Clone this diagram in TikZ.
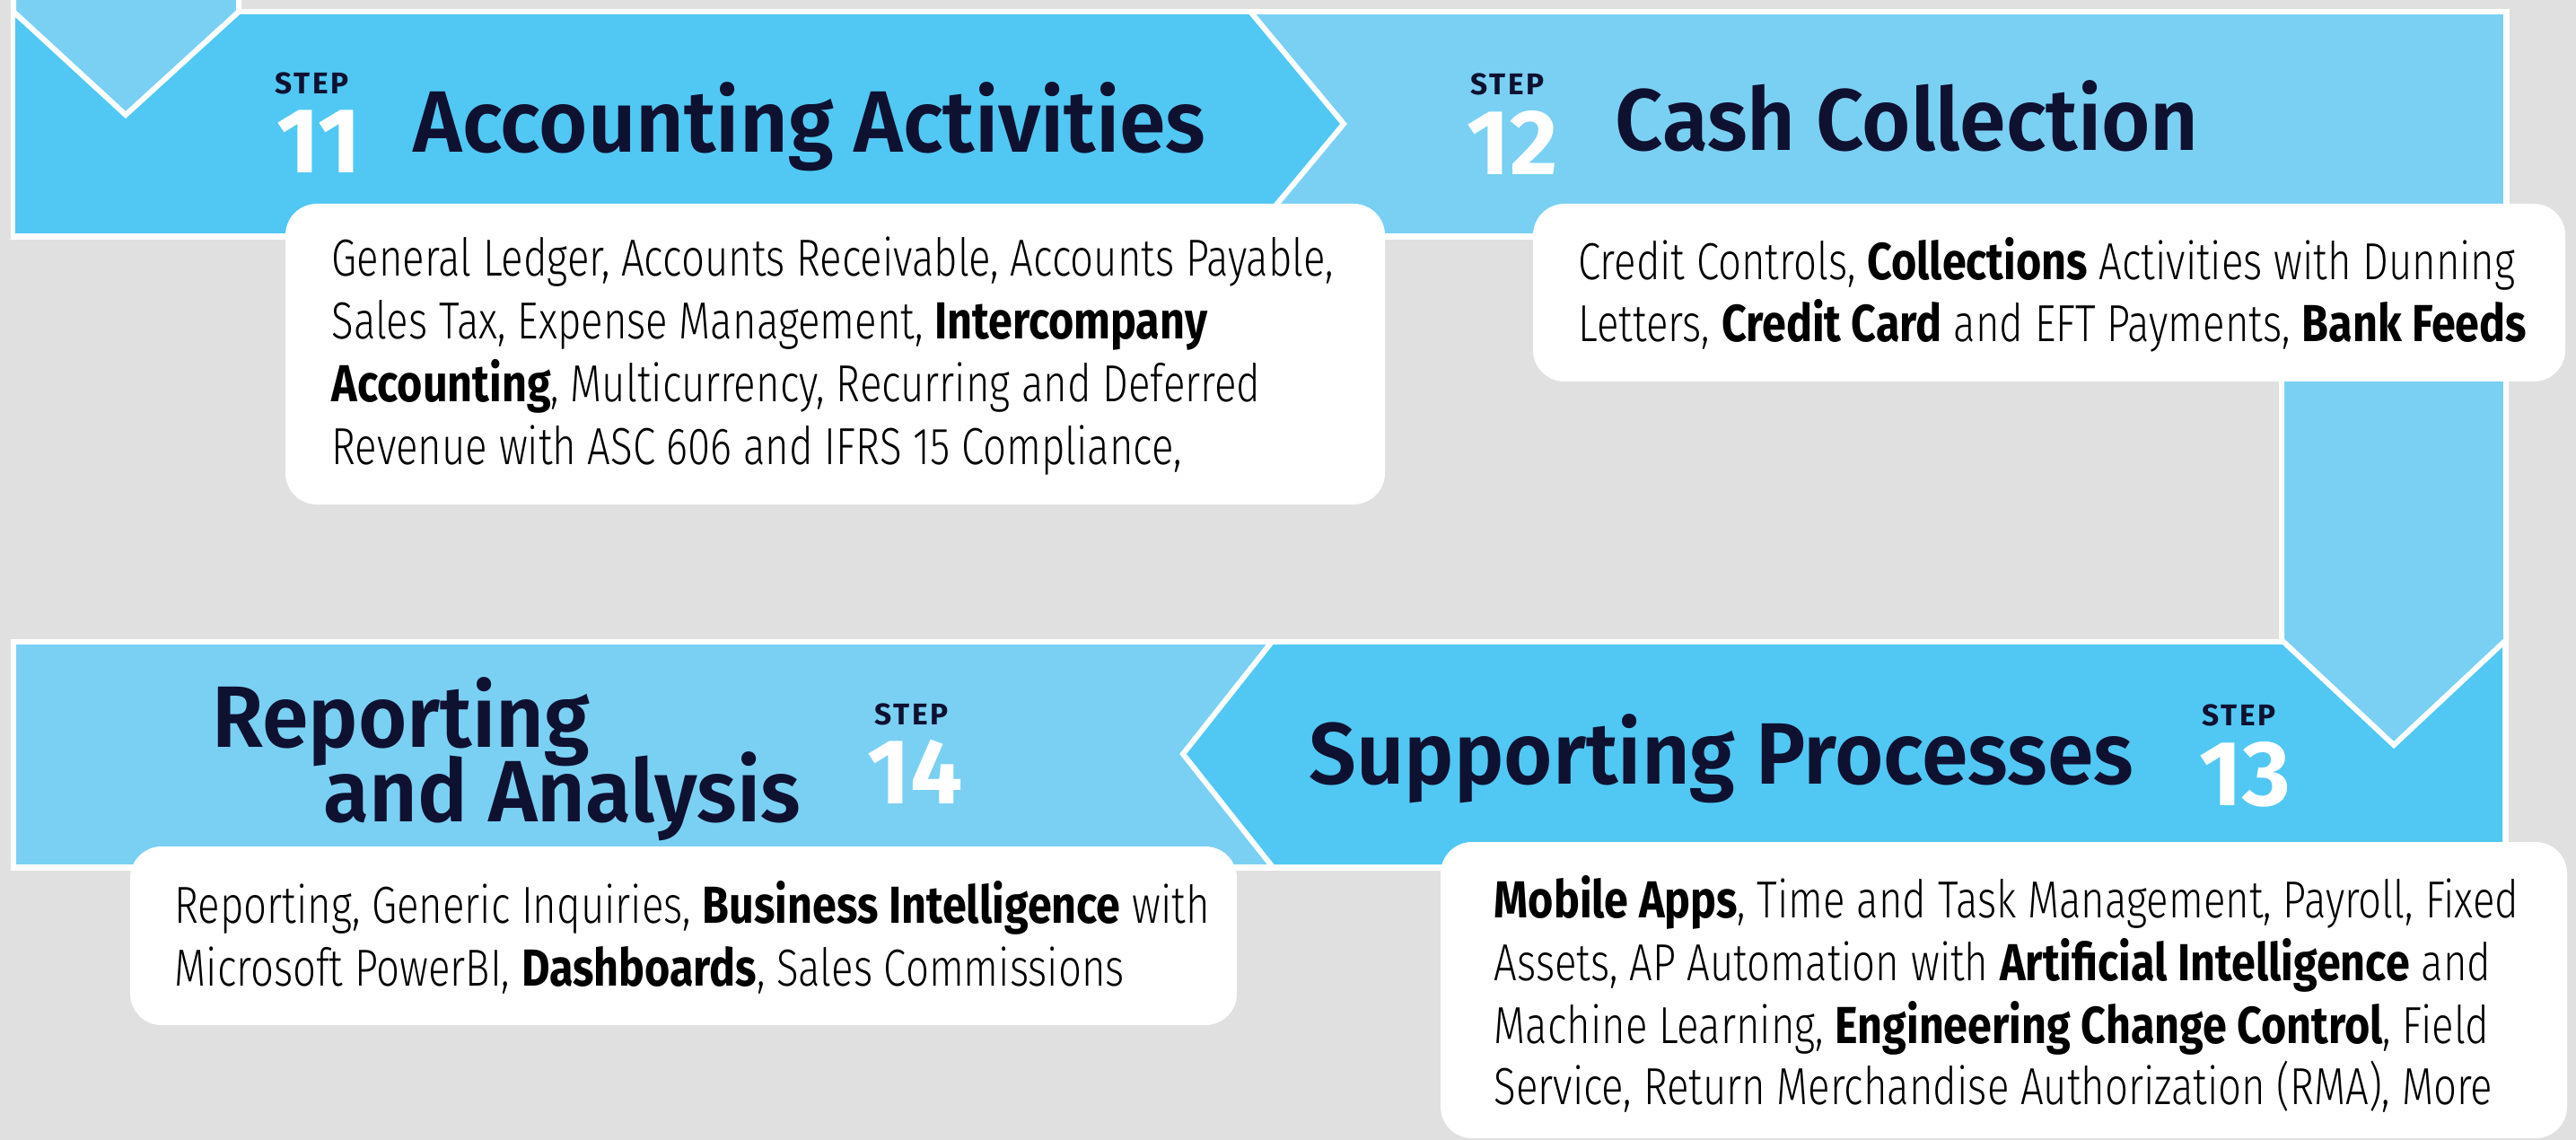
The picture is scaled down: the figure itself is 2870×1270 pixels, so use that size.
\documentclass[tikz,border=0pt]{standalone}
\usepackage{fontspec}
\setmainfont{Fira Sans}
\newfontfamily\titlefont{Fira Sans}[UprightFont={* SemiBold}, FakeStretch=0.96]
\newfontfamily\bodyfont{Fira Sans}[UprightFont={* Light}, BoldFont={* Bold}, UprightFeatures={FakeStretch=0.785}, BoldFeatures={FakeStretch=0.835}]
\newfontfamily\stepfont{Fira Sans}[UprightFont={* Bold}, LetterSpace=8]
\newfontfamily\numfont{Fira Sans}[UprightFont={* Bold}]
\definecolor{bgc}{HTML}{E0E0E0}
\definecolor{dk}{HTML}{50C8F3}
\definecolor{lt}{HTML}{7AD0F3}
\definecolor{navy}{HTML}{0F1131}
\tikzset{
  edge/.style={draw=white, line width=0.06cm, line join=miter},
  card/.style={fill=white, rounded corners=0.35cm},
  bodytxt/.style={anchor=base west, inner sep=0pt, text=black, font={\bodyfont\fontsize{16.5}{20}\selectfont}},
  titletxt/.style={anchor=base west, inner sep=0pt, text=navy, font={\titlefont\fontsize{27.6}{30}\selectfont}},
  steptxt/.style={anchor=base west, inner sep=0pt, text=navy, font={\stepfont\fontsize{9.5}{10}\selectfont}},
  numtxt/.style={anchor=base west, inner sep=0pt, text=white, font={\numfont\fontsize{29.3}{30}\selectfont}},
}
\begin{document}
\begin{tikzpicture}[x=0.01cm, y=-0.01cm]
\useasboundingbox (0,0) rectangle (2870,1270);
\fill[bgc] (0,0) rectangle (2870,1270);
% ---------- top banner ----------
\fill[white] (12,10) rectangle (2796,267);
\fill[lt] (17,16) rectangle (2789,260);
\fill[dk] (17,16) -- (1393,16) -- (1497,138) -- (1393,260) -- (17,260) -- cycle;
\draw[edge] (1393,13) -- (1497,138) -- (1393,263);
% incoming arrow from above (top left)
\filldraw[fill=lt, edge] (15,-20) -- (266,-20) -- (266,13) -- (140,128) -- (15,13) -- cycle;
% ---------- bottom banner ----------
\fill[white] (12,712) rectangle (2795,970);
\fill[lt] (18,718) rectangle (2788,963);
\fill[dk] (1417,718) -- (2788,718) -- (2788,963) -- (1418,963) -- (1318,840) -- cycle;
\draw[edge] (1417,715) -- (1318,840) -- (1418,966);
% down arrow on the right
\filldraw[fill=lt, edge] (2542,240) -- (2792,240) -- (2792,713) -- (2667,830) -- (2542,713) -- cycle;
% ---------- cards ----------
\fill[card] (318,227) rectangle (1543,562);
\fill[card] (1708,227) rectangle (2858,425);
\fill[card] (145,943) rectangle (1378,1142);
\fill[card] (1605,938) rectangle (2860,1268);
% ---------- step 11 ----------
\node[steptxt] (s11) at (306,105) {STEP};
\node[numtxt] (n11) at (308,193) {11};
\node[titletxt] (t11) at (460,170) {Accounting Activities};
\node[bodytxt] (b11a) at (369,308) {General Ledger, Accounts Receivable, Accounts Payable,};
\node[bodytxt] (b11b) at (369,378) {Sales Tax, Expense Management, \textbf{Intercompany}};
\node[bodytxt] (b11c) at (369,448) {\textbf{Accounting}, Multicurrency, Recurring and Deferred};
\node[bodytxt] (b11d) at (369,517) {Revenue with ASC 606 and IFRS 15 Compliance,};
% ---------- step 12 ----------
\node[steptxt] (s12) at (1638,106) {STEP};
\node[numtxt] (n12) at (1634,195) {12};
\node[titletxt] (t12) at (1799,168) {Cash Collection};
\node[bodytxt] (b12a) at (1758,312) {Credit Controls, \textbf{Collections} Activities with Dunning};
\node[bodytxt] (b12b) at (1758,380) {Letters, \textbf{Credit Card} and EFT Payments, \textbf{Bank Feeds}};
% ---------- step 13 ----------
\node[steptxt] (s13) at (2453,808) {STEP};
\node[numtxt] (n13) at (2450,897) {13};
\node[titletxt] (t13) at (1458,873) {Supporting Processes};
\node[bodytxt] (b13a) at (1664,1022) {\textbf{Mobile Apps}, Time and Task Management, Payroll, Fixed};
\node[bodytxt] (b13b) at (1664,1092) {Assets, AP Automation with \textbf{Artificial Intelligence} and};
\node[bodytxt] (b13c) at (1664,1162) {Machine Learning, \textbf{Engineering Change Control}, Field};
\node[bodytxt] (b13d) at (1664,1230) {Service, Return Merchandise Authorization (RMA), More};
% ---------- step 14 ----------
\node[steptxt] (s14) at (974,807) {STEP};
\node[numtxt] (n14) at (966,895) {14};
\node[titletxt] (t14a) at (236,832) {Reporting};
\node[titletxt] (t14b) at (360,915) {and Analysis};
\node[bodytxt] (b14a) at (194,1028) {Reporting, Generic Inquiries, \textbf{Business Intelligence} with};
\node[bodytxt] (b14b) at (194,1098) {Microsoft PowerBI, \textbf{Dashboards}, Sales Commissions};
\end{tikzpicture}
\end{document}
